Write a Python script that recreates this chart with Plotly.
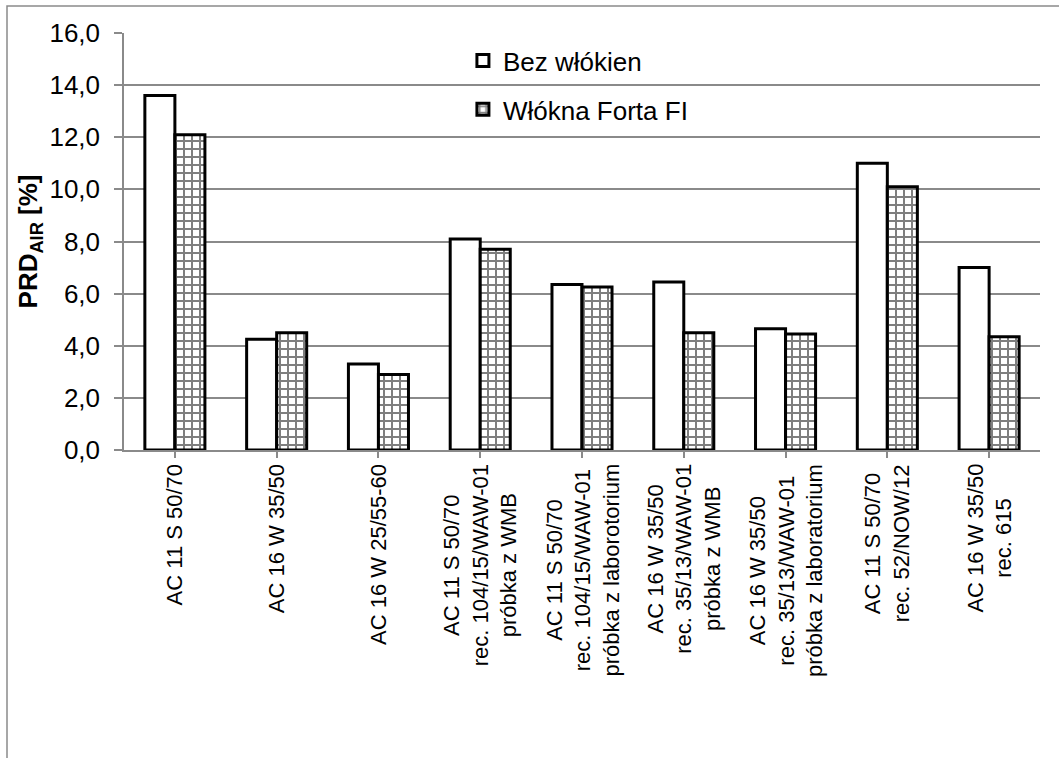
import plotly.graph_objects as go

# Mix designs (x categories); lines of each label separated by <br>
categories = [
    "AC 11 S 50/70",
    "AC 16 W 35/50",
    "AC 16 W 25/55-60",
    "AC 11 S 50/70<br>rec. 104/15/WAW-01<br>próbka z WMB",
    "AC 11 S 50/70<br>rec. 104/15/WAW-01<br>próbka z laborotorium",
    "AC 16 W 35/50<br>rec. 35/13/WAW-01<br>próbka z WMB",
    "AC 16 W 35/50<br>rec. 35/13/WAW-01<br>próbka z laboratorium",
    "AC 11 S 50/70<br>rec. 52/NOW/12",
    "AC 16 W 35/50<br>rec. 615",
]

# PRD_AIR [%] for both series
bez_wlokien = [13.6, 4.25, 3.3, 8.1, 6.35, 6.45, 4.65, 11.0, 7.0]
forta_fi = [12.1, 4.5, 2.9, 7.7, 6.25, 4.5, 4.45, 10.1, 4.35]

series_names = ["Bez włókien", "Włókna Forta FI"]

y_ticks = [0, 2, 4, 6, 8, 10, 12, 14, 16]

FONT = "Liberation Sans, Arial, sans-serif"
GRID = "#8a8a8a"

W, H = 1059, 758
ML, MR, MT, MB = 124, 19, 33, 308
PW, PH = W - ML - MR, H - MT - MB

x_idx = list(range(len(categories)))

fig = go.Figure()
fig.add_trace(go.Bar(
    x=x_idx, y=bez_wlokien, name=series_names[0], legendgroup="a",
    marker=dict(color="white", line=dict(color="black", width=3)),
))
# Square-grid fill: 8 px cells with 2 px black lines
fig.add_trace(go.Bar(
    x=x_idx, y=forta_fi, name=series_names[1], legendgroup="b",
    marker=dict(
        color="white",
        line=dict(color="black", width=3),
        pattern=dict(shape="+", fgcolor="black", bgcolor="white",
                     size=8, solidity=0.4375),
    ),
))

# Rotated, centre-aligned category labels below the axis
for i, lab in enumerate(categories):
    fig.add_annotation(
        x=i, y=0, xref="x", yref="paper",
        text=lab, textangle=-90, align="center",
        xanchor="center", yanchor="top", yshift=-12,
        showarrow=False,
        font=dict(family=FONT, size=22, color="black"),
    )

# Outer chart border
fig.add_shape(
    type="rect", xref="paper", yref="paper",
    x0=(7 - ML) / PW, x1=1.2, y0=-1.2, y1=1 + (MT - 6) / PH,
    line=dict(color=GRID, width=1.5), fillcolor="rgba(0,0,0,0)",
)

fig.update_layout(
    width=W, height=H,
    margin=dict(l=ML, r=MR, t=MT, b=MB, pad=0),
    paper_bgcolor="white", plot_bgcolor="white",
    separators=", ",
    barmode="group", bargap=0.41, bargroupgap=0,
    font=dict(family=FONT, color="black"),
    showlegend=True,
    legend=dict(
        x=0.37, y=0.99, xanchor="left", yanchor="top",
        bgcolor="rgba(0,0,0,0)", borderwidth=0,
        font=dict(family=FONT, size=26, color="black"),
        tracegroupgap=12, itemwidth=30,
        traceorder="grouped",
    ),
    xaxis=dict(
        range=[-0.5, len(categories) - 0.5],
        tickmode="array", tickvals=x_idx, ticktext=[""] * len(categories),
        tickson="boundaries", ticks="outside", ticklen=6, tickcolor=GRID,
        tickwidth=1.5,
        showline=True, linecolor=GRID, linewidth=1.5,
        showgrid=False, zeroline=False,
    ),
    yaxis=dict(
        range=[0, 16], tickmode="array", tickvals=y_ticks,
        tickformat=".1f",
        ticks="outside", ticklen=8, tickcolor=GRID, tickwidth=1.5,
        ticklabelstandoff=9,
        showline=True, linecolor=GRID, linewidth=1.5,
        showgrid=True, gridcolor=GRID, gridwidth=1.5,
        zeroline=False,
        tickfont=dict(family=FONT, size=26, color="black"),
        title=dict(
            text="<b>PRD<sub>AIR</sub> [%]</b>",
            font=dict(family=FONT, size=26, color="black"),
            standoff=4,
        ),
    ),
)

fig.write_html("out.html")
